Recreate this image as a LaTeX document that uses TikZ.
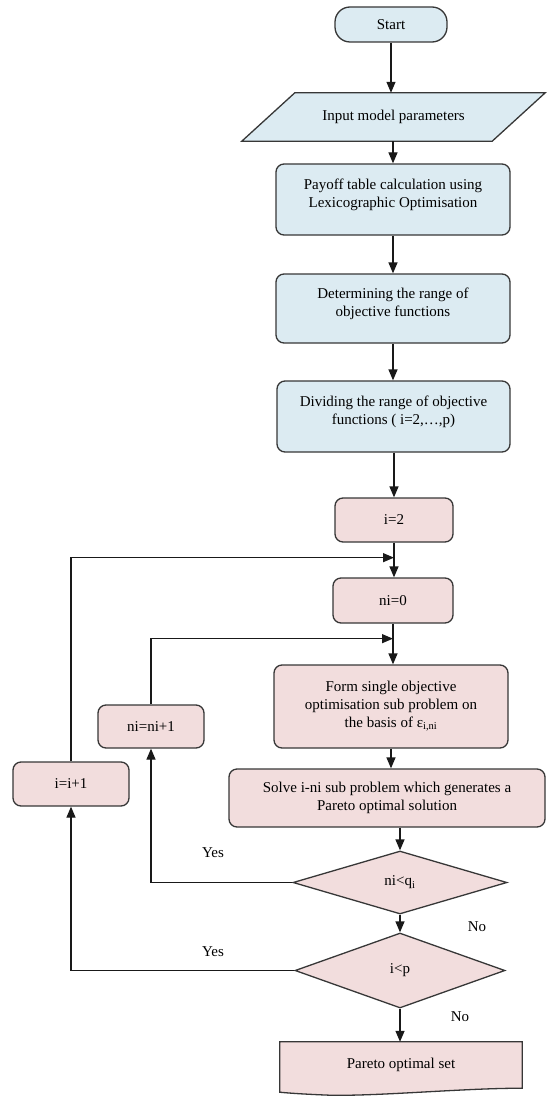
\documentclass[tikz,border=0pt]{standalone}
\usepackage{fontspec}
\setmainfont{Liberation Serif}
\usetikzlibrary{arrows.meta,shapes.geometric,calc,backgrounds}
\definecolor{bluefill}{RGB}{220,235,242}
\definecolor{pinkfill}{RGB}{242,221,221}
\definecolor{edgecol}{RGB}{55,55,55}
\begin{document}
\begin{tikzpicture}[x=1pt,y=-1pt,
  every node/.style={font=\fontsize{15}{18}\selectfont, text=black},
  box/.style={draw=edgecol, line width=1.3pt, rounded corners=8pt, align=center, inner sep=2pt},
  bluebox/.style={box, fill=bluefill},
  pinkbox/.style={box, fill=pinkfill},
  raised/.style={text depth=12pt},
  decision/.style={diamond, draw=edgecol, line width=1.3pt, fill=pinkfill, inner sep=0pt},
  shapeline/.style={draw=edgecol, line width=1.3pt},
  arr/.style={-{Triangle[length=11pt,width=9pt]}, line width=1.3pt, draw=black!90},
  lbl/.style={inner sep=0pt}]
\useasboundingbox (0,0) rectangle (547,1102);

% nodes
\node[bluebox, rounded corners=15pt, minimum width=112pt, minimum height=35pt] (start) at (391,24.5) {Start};
\node[inner sep=0pt, minimum width=250pt, minimum height=48pt] (input) at (393.5,117) {Input model parameters};
\node[bluebox, raised, minimum width=234pt, minimum height=71pt] (payoff) at (393,199.5) {Payoff table calculation using\\Lexicographic Optimisation};
\node[bluebox, raised, minimum width=234pt, minimum height=69pt] (determ) at (393,308.5) {Determining the range of\\objective functions};
\node[bluebox, raised, minimum width=233pt, minimum height=71pt] (divide) at (393.5,416.5) {Dividing the range of objective\\functions ( i=2,…,p)};
\node[pinkbox, minimum width=118pt, minimum height=44pt] (itwo) at (394,520) {i=2};
\node[pinkbox, minimum width=120pt, minimum height=45pt] (nizero) at (393,600.5) {ni=0};
\node[pinkbox, minimum width=106pt, minimum height=43pt] (ninc) at (151,726.5) {ni=ni+1};
\node[pinkbox, minimum width=116pt, minimum height=44pt] (iinc) at (71,784) {i=i+1};
\node[pinkbox, minimum width=234pt, minimum height=83pt] (form) at (391,706.5) {Form single objective\\optimisation sub problem on\\the basis of ε\textsubscript{i,ni}};
\node[pinkbox, minimum width=316pt, minimum height=58pt] (solve) at (387,798) {Solve i-ni sub problem which generates a\\Pareto optimal solution};
\node[decision, minimum width=214pt, minimum height=63pt] (dni) at (400,882.5) {ni<q\textsubscript{i}};
\node[decision, minimum width=210pt, minimum height=75pt] (dip) at (400,970.5) {i<p};
\node[inner sep=0pt, minimum width=242pt, minimum height=46pt] (pareto) at (401,1065) {Pareto optimal set};

% special shapes behind text
\begin{pgfonlayer}{background}
\path[shapeline, fill=bluefill]
  ($(input.south west)+(-26.5,0)$) -- ($(input.north west)+(26.5,0)$)
  -- ($(input.north east)+(26.5,0)$) -- ($(input.south east)+(-26.5,0)$) -- cycle;
\path[shapeline, fill=pinkfill]
  (pareto.north west) -- (pareto.north east) -- (pareto.south east)
  .. controls ($(pareto.south east)+(-60,0)$) and ($(pareto.south west)+(100,8)$) .. ($(pareto.south west)+(50,7)$)
  .. controls ($(pareto.south west)+(25,6)$) and ($(pareto.south west)+(10,5)$) .. ($(pareto.south west)+(0,4)$)
  -- cycle;
\end{pgfonlayer}

% junctions
\coordinate (jone) at ($(itwo.south)+(0,15)$);
\coordinate (jtwo) at ($(nizero.south)+(0,15)$);

% main flow
\draw[arr] (start.south) -- (start.south |- input.north);
\draw[arr] (input.south -| payoff.north) -- (payoff.north);
\draw[arr] (payoff.south) -- (determ.north);
\draw[arr] (determ.south) -- (determ.south |- divide.north);
\draw[arr] (divide.south -| itwo.north) -- (itwo.north);
\draw[arr] (itwo.south) -- (itwo.south |- nizero.north);
\draw[arr] (nizero.south) -- (nizero.south |- form.north);
\draw[arr] (form.south) -- (form.south |- solve.north);
\draw[arr] (solve.south -| dni.north) -- (dni.north);
\draw[arr] (dni.south) -- (dip.north);
\draw[arr] (dip.south) -- (dip.south |- pareto.north);

% loops
\draw[arr] (dni.west) -| (ninc.south);
\draw[arr] (ninc.north) |- (jtwo);
\draw[arr] (dip.west) -| (iinc.south);
\draw[arr] (iinc.north) |- (jone);

% labels
\node[lbl] (yesa) at (213,853) {Yes};
\node[lbl] (yesb) at (213,952) {Yes};
\node[lbl] (noa) at (477,927) {No};
\node[lbl] (nob) at (460,1017) {No};
\end{tikzpicture}
\end{document}
